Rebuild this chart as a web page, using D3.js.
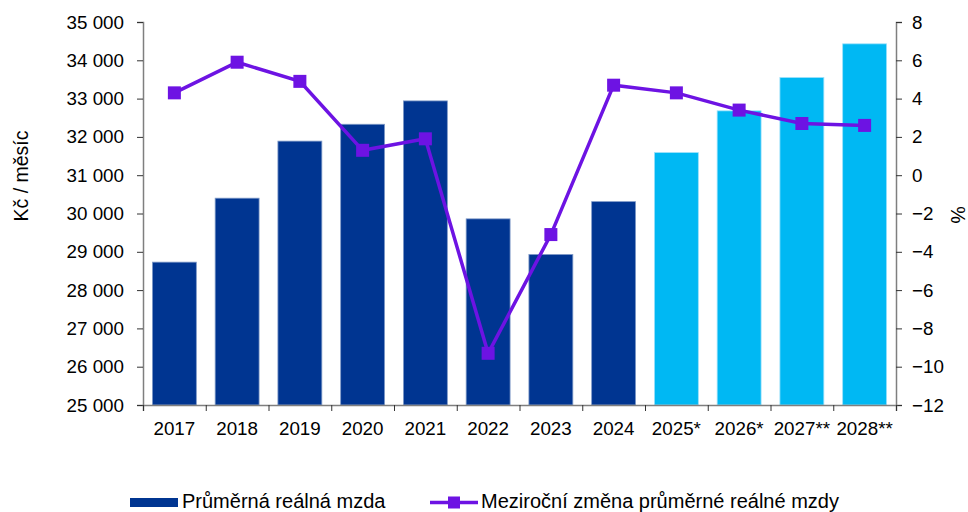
<!DOCTYPE html>
<html><head><meta charset="utf-8">
<script src="https://cdn.jsdelivr.net/npm/d3@7"></script>
<style>body{margin:0;background:#fff}svg{display:block;font-family:"Liberation Sans",Arial,sans-serif}</style>
</head><body><svg id="c" width="968" height="512"></svg>
<script>
const categories = ["2017","2018","2019","2020","2021","2022","2023","2024","2025*","2026*","2027**","2028**"];
const wages = [28730,30400,31890,32330,32940,29860,28930,30310,31590,32680,33550,34430];
const changes = [4.3,5.9,4.9,1.3,1.9,-9.3,-3.1,4.7,4.3,3.4,2.7,2.6];
const forecast = [false,false,false,false,false,false,false,false,true,true,true,true];
const leftTicks = [25000,26000,27000,28000,29000,30000,31000,32000,33000,34000,35000];
const rightTicks = [-12,-10,-8,-6,-4,-2,0,2,4,6,8];
const barName = "Průměrná reálná mzda";
const lineName = "Meziroční změna průměrné reálné mzdy";

const svg = d3.select("#c");
const L=143, R=896, T=22, B=405;
const x = d3.scaleBand().domain(categories).range([L,R]).paddingInner(0.3).paddingOuter(0.15);
const yL = d3.scaleLinear().domain([25000,35000]).range([B,T]);
const yR = d3.scaleLinear().domain([-12,8]).range([B,T]);
const dark="#003591", light="#00B8F3", purple="#6D13E3";
const fmt = v => d3.format(",")(v).replace(/,/g," ");

svg.append("g").selectAll("rect").data(categories).join("rect")
  .attr("x",d=>x(d)).attr("width",x.bandwidth())
  .attr("y",(d,i)=>yL(wages[i])).attr("height",(d,i)=>B-yL(wages[i]))
  .attr("fill",(d,i)=>forecast[i]?light:dark)
  .attr("stroke",(d,i)=>forecast[i]?"#9be0fa":"#7f9ac8").attr("stroke-width",0.8);

const fs = 18.8;
const ga = svg.append("g").attr("transform",`translate(${L},0)`)
  .call(d3.axisLeft(yL).tickValues(leftTicks).tickFormat(fmt).tickSize(6).tickPadding(13));
const gr = svg.append("g").attr("transform",`translate(${R},0)`)
  .call(d3.axisRight(yR).tickValues(rightTicks).tickSize(6).tickPadding(10));
const xs = d3.scaleLinear().domain([0,12]).range([L,R]);
const gx = svg.append("g").attr("transform",`translate(0,${B})`)
  .call(d3.axisBottom(xs).tickValues(d3.range(0,13)).tickFormat("").tickSize(6));
svg.append("g").selectAll("text").data(categories).join("text")
  .attr("x",d=>x(d)+x.bandwidth()/2).attr("y",B+30).attr("text-anchor","middle")
  .attr("font-size",fs).attr("fill","#000").text(d=>d);
[ga,gr,gx].forEach(g=>{
  g.select(".domain").attr("stroke","#7f7f7f").attr("stroke-width",1.5);
  g.selectAll(".tick line").attr("stroke","#333");
  g.selectAll(".tick text").attr("font-size",fs).attr("fill","#000").attr("font-family","Liberation Sans, Arial");
});

const line = d3.line().x((d,i)=>x(categories[i])+x.bandwidth()/2).y(d=>yR(d));
svg.append("path").datum(changes).attr("d",line).attr("fill","none").attr("stroke",purple).attr("stroke-width",3.5);
const ms=13;
svg.append("g").selectAll("rect").data(changes).join("rect")
  .attr("x",(d,i)=>x(categories[i])+x.bandwidth()/2-ms/2).attr("y",d=>yR(d)-ms/2)
  .attr("width",ms).attr("height",ms).attr("fill",purple);

svg.append("text").attr("transform","translate(28,176) rotate(-90)").attr("text-anchor","middle")
  .attr("font-size",19.5).text("Kč / měsíc");
svg.append("text").attr("transform","translate(951,215) rotate(90)").attr("text-anchor","middle")
  .attr("font-size",19.5).text("%");

const lg = svg.append("g");
lg.append("rect").attr("x",130).attr("y",498).attr("width",48).attr("height",9).attr("fill",dark);
lg.append("text").attr("x",182).attr("y",508).attr("font-size",20).text(barName);
lg.append("line").attr("x1",430).attr("x2",478).attr("y1",502.5).attr("y2",502.5).attr("stroke",purple).attr("stroke-width",3.5);
lg.append("rect").attr("x",448).attr("y",496.5).attr("width",12).attr("height",12).attr("fill",purple);
lg.append("text").attr("x",481).attr("y",508).attr("font-size",20).text(lineName);
</script></body></html>
